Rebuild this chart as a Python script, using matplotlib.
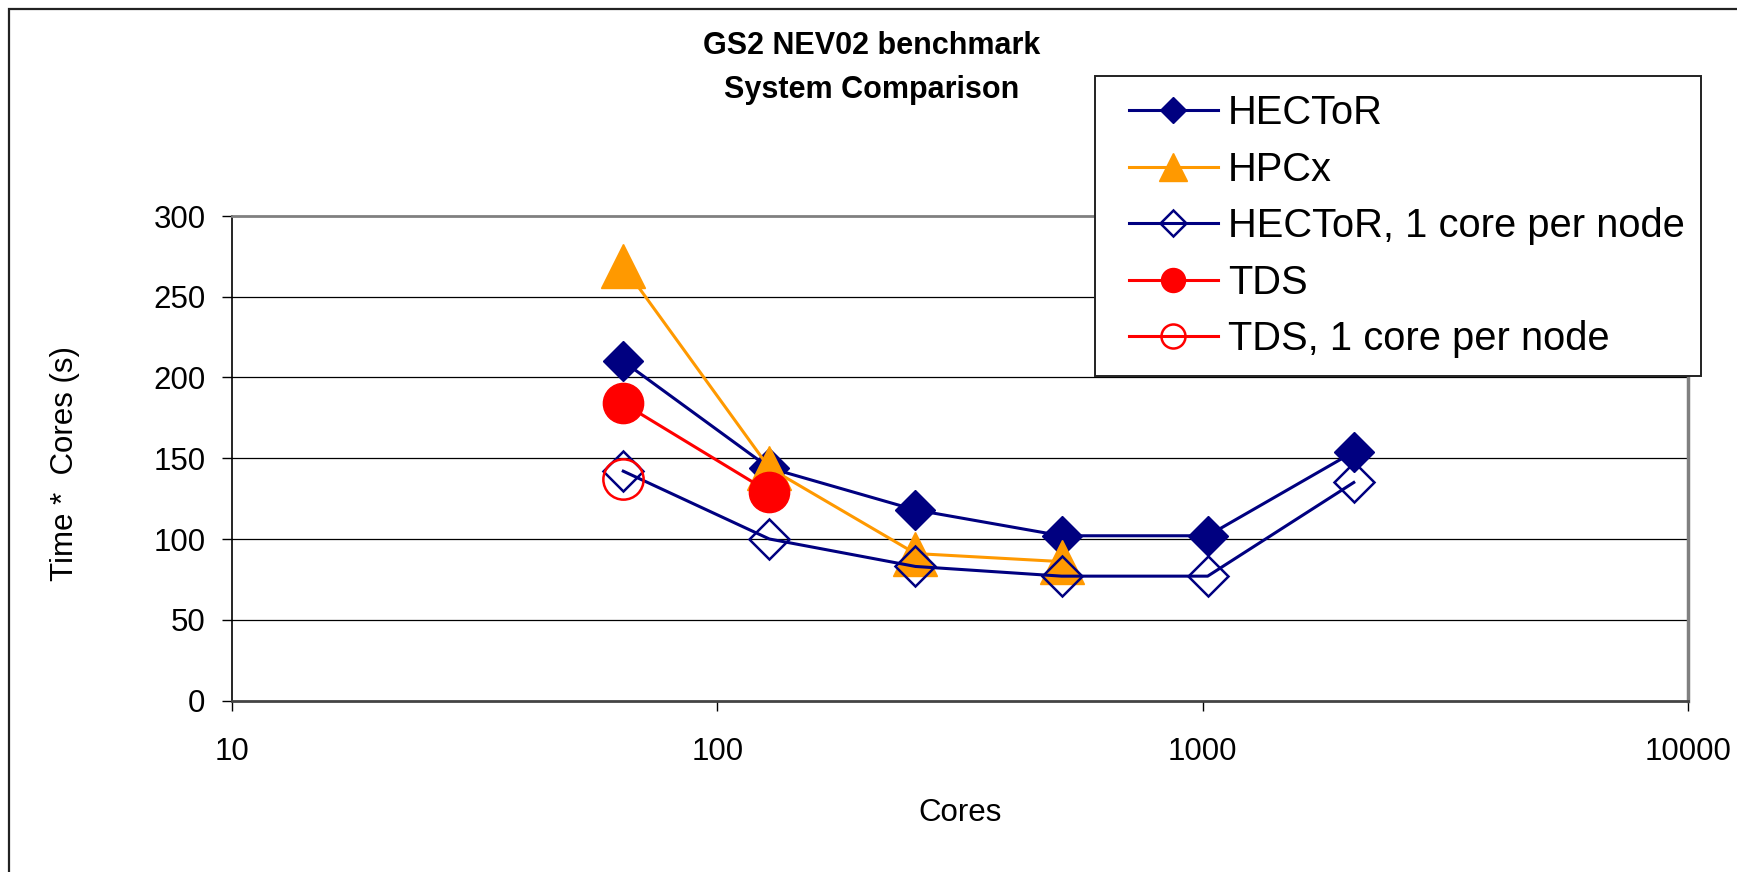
import matplotlib
matplotlib.use("Agg")
import matplotlib.pyplot as plt
from matplotlib.patches import Rectangle

plt.rcParams['font.family'] = ['Liberation Sans', 'DejaVu Sans']

# data
cores = [64, 128, 256, 512, 1024, 2048]
hector = [210, 144, 118, 102, 102, 154]
hpcx_cores = [64, 128, 256, 512]
hpcx = [269, 144, 91, 86]
hector_1cpn = [142, 100, 83, 77, 77, 135]
tds_cores = [64, 128]
tds = [184, 129]
tds_1cpn_cores = [64]
tds_1cpn = [137]

y_ticks = [0, 50, 100, 150, 200, 250, 300]
x_ticks = [10, 100, 1000, 10000]

NAVY = '#000080'
ORANGE = '#FF9900'
RED = '#FF0000'

W, H = 1737, 872
fig = plt.figure(figsize=(W / 100, H / 100), dpi=100)
ax = fig.add_axes([232 / W, 1 - 700.5 / H, 1456 / W, 484.5 / H])

# outer chart border (left and top visible)
fig.patches.append(Rectangle((9 / W, -0.01), 1.1, 1 - 9 / H + 0.01,
                             transform=fig.transFigure, fill=False,
                             edgecolor='#222222', linewidth=1.6))

lw = 2.2
ax.plot(cores, hector, color=NAVY, lw=lw, marker='D', ms=20.5,
        mfc=NAVY, mec=NAVY, label='HECToR', zorder=3)
ax.plot(hpcx_cores, hpcx, color=ORANGE, lw=lw, marker='^', ms=32,
        mfc=ORANGE, mec=ORANGE, label='HPCx', zorder=3)
ax.plot(cores, hector_1cpn, color=NAVY, lw=lw, marker='D', ms=20.5,
        mfc='none', mec=NAVY, mew=1.8, label='HECToR, 1 core per node', zorder=3)
ax.plot(tds_cores, tds, color=RED, lw=lw, marker='o', ms=29,
        mfc=RED, mec=RED, label='TDS', zorder=3)
ax.plot(tds_1cpn_cores, tds_1cpn, color=RED, lw=lw, marker='o', ms=29,
        mfc='none', mec=RED, mew=1.8, label='TDS, 1 core per node', zorder=3)

ax.set_xscale('log')
ax.set_xlim(10, 10000)
ax.set_ylim(0, 300)
ax.set_xticks(x_ticks)
ax.set_xticklabels([str(v) for v in x_ticks])
ax.xaxis.set_minor_locator(matplotlib.ticker.NullLocator())
ax.set_yticks(y_ticks)
ax.tick_params(axis='both', direction='out', length=7, width=1, color='black',
               labelsize=22.5)
ax.tick_params(axis='x', pad=19)
ax.tick_params(axis='y', pad=12)

for v in y_ticks[1:-1]:
    ax.axhline(v, color='black', lw=0.9, zorder=1)

ax.spines['left'].set_color('black')
ax.spines['left'].set_linewidth(1.2)
ax.spines['bottom'].set_color('#444444')
ax.spines['bottom'].set_linewidth(2)
ax.spines['top'].set_color('#808080')
ax.spines['top'].set_linewidth(2)
ax.spines['right'].set_color('#808080')
ax.spines['right'].set_linewidth(2.5)

ax.set_ylabel('Time *  Cores (s)', fontsize=22.5, va='center')
ax.yaxis.set_label_coords(-0.115, 0.49)
ax.set_xlabel('Cores', fontsize=22.5, va='center')
ax.xaxis.set_label_coords(0.5, -0.232)

fig.text(872 / W, 1 - 68 / H, 'GS2 NEV02 benchmark\nSystem Comparison',
         ha='center', va='center', fontsize=22, fontweight='bold',
         linespacing=1.65)

# legend box drawn separately (Excel leaves the frame larger than the entries)
ax.add_patch(Rectangle((1095 / W, 1 - 376 / H), 606 / W, 300 / H,
                       transform=fig.transFigure, clip_on=False,
                       facecolor='white', edgecolor='#222222', lw=1.4, zorder=4))
leg = ax.legend(loc='upper left', bbox_to_anchor=(1129 / W, 1 - 94 / H),
                bbox_transform=fig.transFigure, fontsize=28.7, frameon=False,
                borderpad=0, handlelength=2.23, handletextpad=0.25,
                labelspacing=0.465, borderaxespad=0)
leg.set_zorder(5)
for h, ms in zip(leg.legend_handles, [13.7, 20, 13.7, 17.3, 17.3]):
    h.set_markersize(ms)

fig.savefig('out.png', dpi=100)
